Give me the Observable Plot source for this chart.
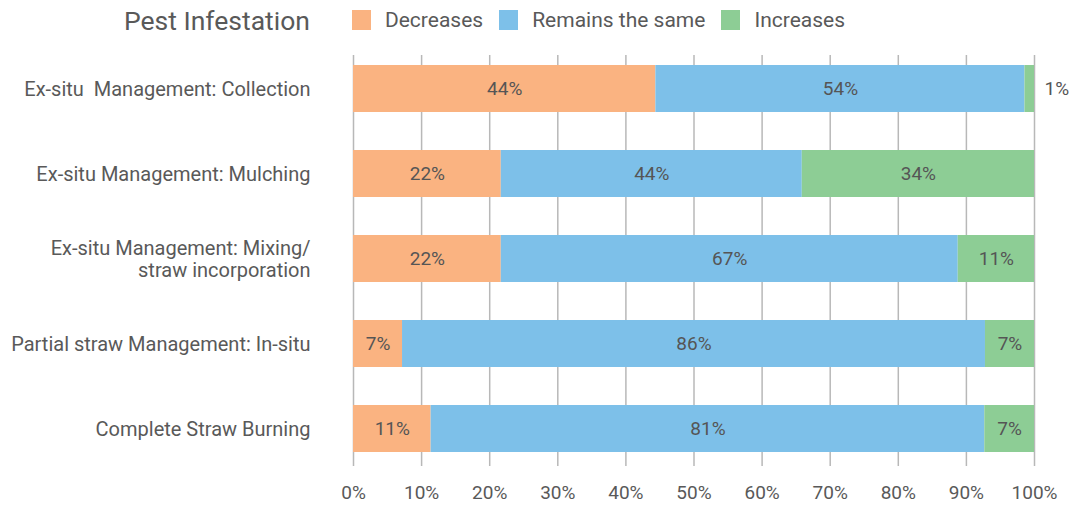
<!DOCTYPE html>
<html>
<head>
<meta charset="utf-8">
<script src="https://cdn.jsdelivr.net/npm/d3@7"></script>
<script src="https://cdn.jsdelivr.net/npm/@observablehq/plot@0.6"></script>
<style>
  html, body { margin: 0; padding: 0; background: #fff; }
  #wrap { position: relative; width: 1072px; height: 506px; font-family: Roboto, sans-serif; color: #595959; }
  #legend { position: absolute; left: 0; top: 0; height: 40px; display: flex; align-items: center; padding-left: 124px; z-index: 2; }
  #legend .title { font-size: 26.5px; margin-right: 42px; }
  #legend .sw { width: 19px; height: 20px; margin-right: 14px; }
  #legend .lab { font-size: 21px; margin-right: 16px; }
  #chart { position: absolute; left: 0; top: 0; }
  svg text { white-space: pre; }
</style>
</head>
<body>
<div id="wrap">
  <div id="legend"></div>
  <div id="chart"></div>
</div>
<script>
const chartTitle = "Pest Infestation";
const categories = [
  "Ex-situ  Management: Collection",
  "Ex-situ Management: Mulching",
  "Ex-situ Management: Mixing/\nstraw incorporation",
  "Partial straw Management: In-situ",
  "Complete Straw Burning"
];
const statuses = ["Decreases", "Remains the same", "Increases"];
const colors = ["#FAB381", "#7DC0E9", "#8DCD95"];
const decreases = [44.4, 21.7, 21.7, 7.2, 11.4];
const remains = [54.2, 44.2, 67.1, 85.6, 81.3];
const increases = [1.4, 34.1, 11.2, 7.2, 7.3];
const xTicks = [0, 10, 20, 30, 40, 50, 60, 70, 80, 90, 100];

const series = [decreases, remains, increases];
const data = categories.flatMap((c, i) =>
  statuses.map((s, j) => ({category: c, status: s, value: series[j][i]}))
);

// legend
const legend = document.getElementById("legend");
const t = document.createElement("span");
t.className = "title"; t.textContent = chartTitle; legend.appendChild(t);
statuses.forEach((s, j) => {
  const sw = document.createElement("span");
  sw.className = "sw"; sw.style.background = colors[j]; legend.appendChild(sw);
  const lb = document.createElement("span");
  lb.className = "lab"; lb.textContent = s; legend.appendChild(lb);
});

const pct = d => Math.round(d) + "%";

const chart = Plot.plot({
  width: 1072,
  height: 506,
  marginLeft: 353,
  marginRight: 38,
  marginTop: 55,
  marginBottom: 40,
  style: {fontFamily: "Roboto, sans-serif", color: "#595959", background: "transparent"},
  x: {domain: [0, 100], label: null},
  y: {domain: categories, paddingInner: 0.448, paddingOuter: 0.137, align: 0.43, label: null},
  color: {domain: statuses, range: colors},
  marks: [
    Plot.gridX(xTicks, {stroke: "#b8b8b8", strokeOpacity: 1, strokeWidth: 1.5}),
    Plot.barX(data, {x: "value", y: "category", fill: "status", order: statuses}),
    Plot.text(data, Plot.stackX({
      x: "value", y: "category", z: "status", order: statuses,
      text: d => d.value >= 3 ? pct(d.value) : undefined,
      fontSize: 19, fill: "#555"
    })),
    Plot.text(data, Plot.stackX2({
      x: "value", y: "category", z: "status", order: statuses,
      text: d => d.value < 3 ? pct(d.value) : undefined,
      fontSize: 19, fill: "#555", textAnchor: "start", dx: 10
    })),
    Plot.axisX({ticks: xTicks, tickFormat: d => d + "%", tickSize: 0, tickPadding: 19, fontSize: 19, label: null}),
    Plot.axisY({tickSize: 0, tickPadding: 43, fontSize: 20, lineHeight: 1.1, label: null})
  ]
});
document.getElementById("chart").appendChild(chart);
</script>
</body>
</html>
